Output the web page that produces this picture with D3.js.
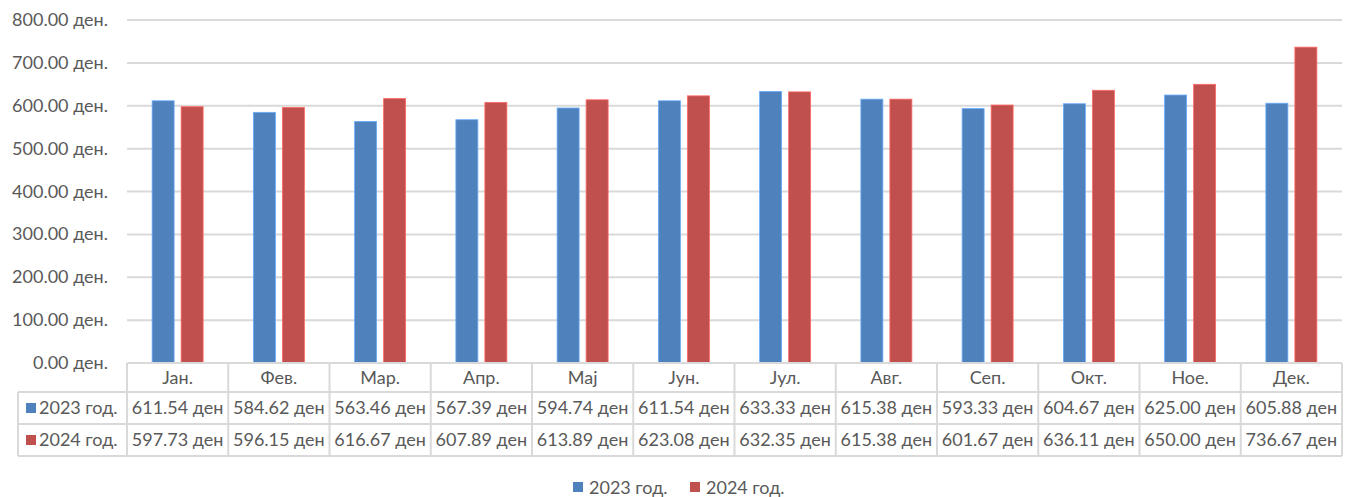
<!DOCTYPE html>
<html><head><meta charset="utf-8">
<script src="https://cdn.jsdelivr.net/npm/d3@7"></script>
<style>body{margin:0;background:#fff}svg{display:block}text{font-family:Lato,"Open Sans",sans-serif;fill:#595959}</style>
</head><body>
<script>
const categories = ["Јан.","Фев.","Мар.","Апр.","Мај","Јун.","Јул.","Авг.","Сеп.","Окт.","Ное.","Дек."];
const seriesNames = ["2023 год.","2024 год."];
const values2023 = [611.54,584.62,563.46,567.39,594.74,611.54,633.33,615.38,593.33,604.67,625.00,605.88];
const values2024 = [597.73,596.15,616.67,607.89,613.89,623.08,632.35,615.38,601.67,636.11,650.00,736.67];
const yTicks = [0,100,200,300,400,500,600,700,800];
const colors = ["#4F81BD","#C0504D"];

(function(){
const W=1353,H=497;
const svg=d3.select("body").append("svg").attr("width",W).attr("height",H);
const pL=127,pR=1342,pT=20,pB=363;
const fs=18;
const x=d3.scaleBand().domain(categories).range([pL,pR]);
const y=d3.scaleLinear().domain([0,800]).range([pB,pT]);
const series=[values2023,values2024];

svg.append("g").selectAll("line").data(yTicks).join("line")
  .attr("x1",pL).attr("x2",pR).attr("y1",d=>y(d)).attr("y2",d=>y(d))
  .attr("stroke","#d9d9d9").attr("stroke-width",2);
svg.append("g").selectAll("text").data(yTicks).join("text")
  .attr("x",108).attr("y",d=>y(d)+6).attr("text-anchor","end").attr("font-size",fs)
  .text(d=>d3.format(".2f")(d)+" ден.");

const bw=22, gap=7;
series.forEach((vals,si)=>{
  svg.append("g").selectAll("rect").data(vals).join("rect")
    .attr("x",(d,i)=>x(categories[i])+x.bandwidth()/2-bw-gap/2+si*(bw+gap))
    .attr("y",d=>y(d)).attr("width",bw).attr("height",d=>y(0)-y(d))
    .attr("fill",colors[si]).attr("stroke",d3.color(colors[si]).brighter(0.8)).attr("stroke-width",0.8);
});

const rowY=[363,392,424,456];
const tg=svg.append("g");
const lineC="#d9d9d9";
tg.append("line").attr("x1",pL).attr("x2",pR).attr("y1",rowY[0]).attr("y2",rowY[0]).attr("stroke",lineC).attr("stroke-width",2);
[1,2,3].forEach(r=>tg.append("line").attr("x1",18).attr("x2",pR).attr("y1",rowY[r]).attr("y2",rowY[r]).attr("stroke",lineC).attr("stroke-width",2));
const vx=categories.map(c=>x(c)).concat([pR]);
vx.forEach(v=>tg.append("line").attr("x1",v).attr("x2",v).attr("y1",rowY[0]).attr("y2",rowY[3]).attr("stroke",lineC).attr("stroke-width",2));
tg.append("line").attr("x1",18).attr("x2",18).attr("y1",rowY[1]).attr("y2",rowY[3]).attr("stroke",lineC).attr("stroke-width",2);
tg.selectAll("text.h").data(categories).join("text").attr("class","h")
  .attr("x",d=>x(d)+x.bandwidth()/2).attr("y",(rowY[0]+rowY[1])/2+6).attr("text-anchor","middle").attr("font-size",fs).text(d=>d);
series.forEach((vals,si)=>{
  const cy=(rowY[si+1]+rowY[si+2])/2;
  tg.selectAll("text.v"+si).data(vals).join("text").attr("class","v"+si)
    .attr("x",(d,i)=>x(categories[i])+x.bandwidth()/2).attr("y",cy+6).attr("text-anchor","middle").attr("font-size",fs)
    .text(d=>d3.format(".2f")(d)+" ден");
  tg.append("rect").attr("x",26).attr("y",cy-5).attr("width",10).attr("height",10).attr("fill",colors[si]);
  tg.append("text").attr("x",39).attr("y",cy+6).attr("font-size",fs).text(seriesNames[si]);
});

const lg=svg.append("g");
const lx=[573,690];
seriesNames.forEach((n,i)=>{
  lg.append("rect").attr("x",lx[i]).attr("y",482).attr("width",10).attr("height",10).attr("fill",colors[i]);
  lg.append("text").attr("x",lx[i]+16).attr("y",494).attr("font-size",fs).text(n);
});
})();
</script>
</body></html>
